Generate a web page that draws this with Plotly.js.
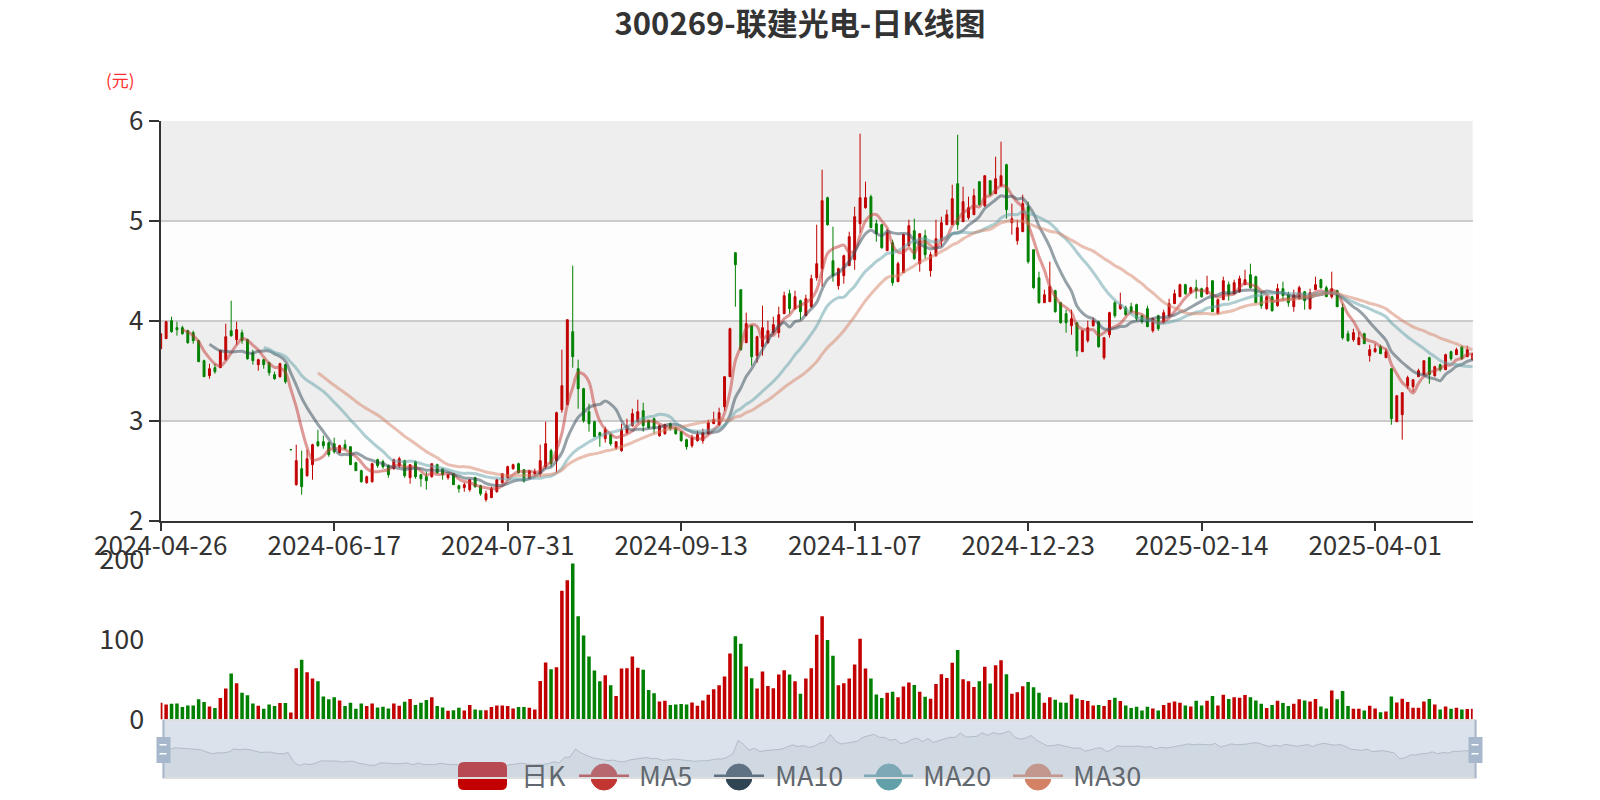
<!DOCTYPE html>
<html><head><meta charset="utf-8">
<script src="https://cdn.plot.ly/plotly-3.0.1.min.js"></script>
<style>html,body{margin:0;padding:0;background:#fff}#chart{width:1600px;height:800px}</style>
</head><body><div id="chart"></div>
<script>
// ---------- DATA ----------
const tradeMonths = ["2024-04","2024-05","2024-06","2024-07","2024-08","2024-09","2024-10","2024-11","2024-12","2025-01","2025-02","2025-03","2025-04"];
const tradeDays = [
 [26,29,30],
 [6,7,8,9,10,13,14,15,16,17,20,21,22,23,24,27,28,29,30,31],
 [3,4,5,6,7,11,12,13,14,17,18,19,20,21,24,25,26,27,28],
 [1,2,3,4,5,8,9,10,11,12,15,16,17,18,19,22,23,24,25,26,29,30,31],
 [1,2,5,6,7,8,9,12,13,14,15,16,19,20,21,22,23,26,27,28,29,30],
 [2,3,4,5,6,9,10,11,12,13,18,19,20,23,24,25,26,27,30],
 [8,9,10,11,14,15,16,17,18,21,22,23,24,25,28,29,30,31],
 [1,4,5,6,7,8,11,12,13,14,15,18,19,20,21,22,25,26,27,28,29],
 [2,3,4,5,6,9,10,11,12,13,16,17,18,19,20,23,24,25,26,27,30,31],
 [2,3,6,7,8,9,10,13,14,15,16,17,20,21,22,23,24,27],
 [5,6,7,10,11,12,13,14,17,18,19,20,21,24,25,26,27,28],
 [3,4,5,6,7,10,11,12,13,14,17,18,19,20,21,24,25,26,27,28,31],
 [1,2,3,7,8,9,10,11,14,15,16,17,18,21,22,23,24,25,28]
];
const dates = [];
tradeMonths.forEach((m, k) => tradeDays[k].forEach(d => dates.push(m + "-" + String(d).padStart(2, "0"))));

const open = [
 3.72,3.82,4.00,3.93,3.93,3.90,3.88,3.80,3.60,3.45,
 3.53,3.53,3.61,3.90,3.81,3.88,3.81,3.68,3.56,3.61,
 3.58,3.46,3.44,3.56,2.71,2.36,2.52,2.45,2.56,2.79,
 2.79,2.78,2.77,2.68,2.76,2.74,2.58,2.50,2.38,2.39,
 2.61,2.59,2.55,2.52,2.55,2.60,2.43,2.59,2.46,2.44,
 2.44,2.56,2.52,2.43,2.47,2.35,2.33,2.31,2.43,2.35,
 2.21,2.23,2.29,2.38,2.43,2.52,2.57,2.51,2.42,2.47,
 2.47,2.54,2.70,2.60,3.11,3.16,3.89,3.52,3.32,3.09,
 2.99,2.88,2.82,2.86,2.73,2.70,2.88,2.95,2.99,3.10,
 3.00,3.02,2.85,2.87,2.97,2.93,2.89,2.81,2.75,2.80,
 2.80,2.87,2.97,2.96,3.14,3.44,4.68,4.31,3.78,3.95,
 3.65,3.74,3.78,3.88,3.88,4.07,4.27,4.12,4.20,4.05,
 4.14,4.43,4.52,5.23,4.60,4.35,4.45,4.55,4.61,4.97,
 5.13,5.24,4.97,4.96,4.70,4.78,4.39,4.48,4.75,4.90,
 4.57,4.85,4.50,4.65,4.80,4.96,4.96,5.37,4.99,5.03,
 5.06,5.39,5.15,5.40,5.27,5.35,5.56,4.98,4.80,4.89,
 5.14,4.71,4.43,4.18,4.19,4.30,4.18,4.07,3.95,3.98,
 3.69,3.80,3.95,3.99,3.63,3.86,4.18,4.12,4.13,4.14,
 4.16,4.05,4.12,3.90,4.05,3.98,4.05,4.17,4.24,4.36,
 4.28,4.33,4.32,4.27,4.40,4.07,4.21,4.36,4.27,4.29,
 4.36,4.46,4.44,4.25,4.12,4.24,4.15,4.32,4.26,4.14,
 4.22,4.29,4.12,4.31,4.41,4.33,4.24,4.30,4.13,3.87,
 3.81,3.76,3.87,3.65,3.69,3.74,3.63,3.52,2.99,3.06,
 3.35,3.34,3.44,3.46,3.63,3.45,3.56,3.51,3.69,3.66,
 3.74,3.64,3.61
];
const close = [
 3.87,3.99,3.89,3.91,3.87,3.78,3.80,3.59,3.44,3.52,
 3.49,3.70,3.84,3.85,3.91,3.80,3.62,3.60,3.61,3.56,
 3.48,3.42,3.57,3.39,2.71,2.60,2.34,2.62,2.76,2.75,
 2.75,2.66,2.69,2.75,2.72,2.56,2.50,2.39,2.44,2.57,
 2.55,2.54,2.46,2.61,2.62,2.45,2.56,2.44,2.42,2.40,
 2.57,2.48,2.46,2.46,2.36,2.32,2.36,2.41,2.34,2.27,
 2.27,2.32,2.41,2.47,2.54,2.56,2.48,2.40,2.50,2.49,
 2.60,2.77,2.57,3.08,3.35,4.01,3.64,3.32,3.00,2.97,
 2.84,2.85,2.91,2.77,2.79,2.91,2.95,3.07,3.09,2.95,
 2.93,2.92,2.95,2.96,2.92,2.87,2.80,2.74,2.83,2.86,
 2.88,2.98,3.01,3.08,3.44,3.92,4.56,3.71,3.97,3.64,
 3.84,3.93,3.90,3.96,4.06,4.25,4.12,4.24,4.09,4.22,
 4.42,4.57,5.20,4.96,4.45,4.52,4.65,4.84,5.04,5.23,
 5.23,4.93,4.87,4.73,4.88,4.38,4.57,4.86,4.95,4.62,
 4.87,4.66,4.66,4.82,4.98,5.06,5.22,4.96,5.19,5.13,
 5.25,5.16,5.45,5.26,5.42,5.45,5.11,5.02,4.93,5.17,
 4.59,4.33,4.18,4.26,4.34,4.09,3.98,3.98,4.02,3.70,
 3.90,3.93,4.00,3.74,3.83,4.08,4.05,4.16,4.06,4.09,
 4.02,3.99,3.94,4.02,3.92,4.08,4.17,4.27,4.36,4.27,
 4.33,4.30,4.24,4.33,4.09,4.21,4.40,4.26,4.38,4.42,
 4.41,4.33,4.18,4.15,4.24,4.10,4.32,4.25,4.18,4.26,
 4.33,4.20,4.28,4.36,4.33,4.24,4.32,4.14,3.83,3.80,
 3.88,3.83,3.77,3.71,3.72,3.67,3.69,3.02,3.25,3.28,
 3.43,3.41,3.50,3.60,3.46,3.54,3.51,3.66,3.62,3.71,
 3.62,3.71,3.67
];
const low = [
 3.72,3.82,3.88,3.85,3.86,3.77,3.77,3.59,3.44,3.42,
 3.47,3.53,3.60,3.84,3.76,3.77,3.61,3.56,3.50,3.52,
 3.45,3.41,3.43,3.37,2.71,2.35,2.26,2.44,2.41,2.74,
 2.72,2.64,2.67,2.68,2.71,2.56,2.50,2.38,2.37,2.38,
 2.53,2.52,2.43,2.51,2.53,2.43,2.37,2.42,2.34,2.31,
 2.43,2.47,2.41,2.41,2.36,2.28,2.29,2.29,2.33,2.25,
 2.19,2.23,2.28,2.37,2.42,2.51,2.47,2.38,2.42,2.45,
 2.44,2.52,2.54,2.48,3.08,3.16,3.53,3.12,2.98,2.89,
 2.84,2.74,2.78,2.75,2.71,2.69,2.87,2.94,2.98,2.89,
 2.92,2.87,2.84,2.86,2.90,2.86,2.79,2.71,2.73,2.79,
 2.77,2.86,2.97,2.95,3.10,3.44,4.14,3.70,3.78,3.55,
 3.58,3.65,3.77,3.86,3.83,4.07,4.07,4.11,4.01,4.05,
 4.13,4.40,4.34,4.95,4.39,4.31,4.37,4.55,4.51,4.88,
 5.12,4.93,4.79,4.72,4.70,4.35,4.39,4.48,4.74,4.61,
 4.49,4.62,4.44,4.64,4.74,4.96,4.96,4.91,4.99,5.01,
 5.06,5.15,5.14,5.25,5.27,5.34,5.02,4.86,4.76,4.89,
 4.57,4.32,4.17,4.18,4.19,4.08,3.97,3.88,3.86,3.64,
 3.69,3.78,3.94,3.73,3.61,3.83,4.03,4.11,4.05,4.07,
 4.00,3.97,3.94,3.88,3.90,3.97,4.04,4.17,4.24,4.26,
 4.27,4.22,4.23,4.26,4.09,4.07,4.21,4.20,4.26,4.28,
 4.36,4.32,4.18,4.12,4.11,4.09,4.14,4.21,4.14,4.09,
 4.21,4.11,4.11,4.31,4.32,4.24,4.22,4.14,3.81,3.79,
 3.79,3.76,3.77,3.59,3.68,3.67,3.63,2.96,2.99,2.81,
 3.32,3.29,3.44,3.46,3.37,3.44,3.49,3.51,3.60,3.66,
 3.61,3.64,3.60
];
const high = [
 3.87,4.00,4.04,3.99,3.95,3.91,3.90,3.81,3.61,3.57,
 3.57,3.71,3.97,4.20,3.99,3.91,3.82,3.71,3.62,3.62,
 3.59,3.49,3.58,3.57,2.71,2.76,2.70,2.71,2.77,2.91,
 2.85,2.79,2.83,2.76,2.81,2.74,2.59,2.51,2.45,2.58,
 2.62,2.61,2.56,2.62,2.64,2.61,2.56,2.60,2.47,2.49,
 2.57,2.57,2.52,2.46,2.47,2.36,2.38,2.41,2.44,2.36,
 2.30,2.34,2.42,2.47,2.55,2.57,2.58,2.51,2.50,2.52,
 2.76,2.99,2.72,3.09,3.71,4.01,4.55,3.61,3.33,3.17,
 3.00,2.89,2.94,2.87,2.79,2.97,3.02,3.12,3.21,3.18,
 3.01,3.03,2.96,2.97,2.98,2.94,2.89,2.82,2.86,2.90,
 2.92,3.01,3.09,3.13,3.44,3.93,4.68,4.31,4.08,3.95,
 3.85,4.15,4.00,4.04,4.14,4.29,4.31,4.30,4.21,4.26,
 4.46,4.96,5.51,5.24,4.94,4.53,4.66,4.89,5.14,5.87,
 5.39,5.26,5.01,4.97,4.92,4.81,4.59,4.87,5.01,5.02,
 4.87,4.91,4.69,5.01,5.04,5.11,5.36,5.86,5.34,5.24,
 5.32,5.39,5.45,5.40,5.64,5.79,5.57,5.17,5.01,5.26,
 5.19,4.71,4.49,4.31,4.59,4.31,4.18,4.11,4.11,3.98,
 3.91,4.00,4.03,4.00,3.83,4.09,4.20,4.28,4.15,4.18,
 4.17,4.06,4.15,4.03,4.06,4.11,4.22,4.31,4.37,4.37,
 4.34,4.41,4.33,4.45,4.40,4.22,4.44,4.39,4.41,4.45,
 4.51,4.57,4.45,4.29,4.25,4.25,4.37,4.39,4.29,4.31,
 4.35,4.29,4.32,4.44,4.42,4.35,4.49,4.31,4.17,3.90,
 3.92,3.89,3.88,3.76,3.77,3.76,3.72,3.52,3.25,3.28,
 3.45,3.41,3.52,3.60,3.64,3.55,3.57,3.67,3.70,3.73,
 3.75,3.75,3.68
];
const volume = [
 21.0,18.9,19.7,20.1,15.5,17.6,17.6,25.2,21.8,16.4,
 14.3,26.8,38.6,57.4,45.3,33.5,30.2,20.1,17.2,13.4,
 18.9,16.8,20.5,20.5,8.8,64.2,74.6,59.1,51.2,47.8,
 28.9,25.2,27.7,23.9,16.8,21.0,13.4,20.1,16.8,20.1,
 15.1,15.9,13.8,20.1,17.2,22.2,25.6,18.0,21.0,24.3,
 27.7,16.8,15.1,10.9,11.7,14.7,11.3,18.0,12.6,11.7,
 11.7,15.5,17.6,17.6,16.8,13.8,15.5,15.5,14.7,12.6,
 48.2,71.3,62.9,65.4,161,174,195,129,105,78.8,
 61.2,47.8,55.3,42.8,29.4,63.7,64.2,78.8,64.6,62.1,
 36.9,32.7,22.6,23.5,18.0,18.9,19.3,18.9,21.4,17.2,
 23.9,31.0,37.7,42.8,53.7,82.6,104,94.8,66.2,51.6,
 38.6,60.0,41.9,39.0,56.2,61.6,56.2,47.8,32.3,51.2,
 64.2,106,129,99.4,79.7,42.8,45.3,51.2,68.8,101,
 63.7,51.2,31.4,26.8,33.5,34.8,27.7,41.1,46.1,43.2,
 34.8,28.5,26.0,44.4,56.6,52.0,70.9,86.8,50.3,47.8,
 40.7,47.8,65.8,44.9,67.9,74.2,56.6,32.3,34.0,41.5,
 47.0,40.3,33.5,21.0,27.7,24.7,21.4,21.0,31.4,26.4,
 24.3,23.1,17.6,18.0,16.8,24.3,27.3,23.1,17.6,14.3,
 15.9,11.3,15.9,13.8,11.3,18.0,21.0,22.6,21.0,17.6,
 16.4,23.5,17.6,23.5,29.4,17.6,31.0,25.6,27.7,27.3,
 30.6,27.7,23.9,19.7,14.3,18.0,23.5,20.5,16.8,19.7,
 25.2,23.9,22.6,25.6,16.4,13.8,36.1,25.2,35.6,16.8,
 13.4,13.4,11.3,17.2,13.8,9.2,10.1,28.9,21.4,26.0,
 21.8,14.7,14.7,22.6,25.6,18.9,12.6,16.4,13.4,14.7,
 12.6,13.0,13.5
];
const tickDates = ["2024-04-26","2024-06-17","2024-07-31","2024-09-13","2024-11-07","2024-12-23","2025-02-14","2025-04-01"];
const priceTicks = [2,3,4,5,6];
const volumeTicks = [0,100,200];
const maPeriods = [5,10,20,30];
const maNames = ["MA5","MA10","MA20","MA30"];
const titleText = "300269-联建光电-日K线图";
const unitText = "(元)";
const candleName = "日K";

// ---------- STYLE ----------
const upColor = "#c20000", downColor = "#008000";
const maColors = ["#c23531","#2f4554","#61a0a8","#d48265"];
const FONT = "Noto Sans CJK SC, Noto Sans, sans-serif";
const W = 1600, H = 800;
const px = x => x / W, py = y => 1 - y / H;
const N = dates.length;

function movingAverage(n) {
  return close.map((v, i) => {
    if (i < n - 1) return null;
    let s = 0;
    for (let k = i - n + 1; k <= i; k++) s += close[k];
    return s / n;
  });
}

const traces = [];
traces.push({
  type: "candlestick", x: dates, open: open, close: close, low: low, high: high,
  xaxis: "x", yaxis: "y", name: candleName, hoverinfo: "skip", whiskerwidth: 0,
  increasing: {line: {color: upColor, width: 1}, fillcolor: upColor},
  decreasing: {line: {color: downColor, width: 1}, fillcolor: downColor}
});
maPeriods.forEach((n, k) => {
  traces.push({
    type: "scatter", mode: "lines", x: dates, y: movingAverage(n), name: maNames[k],
    xaxis: "x", yaxis: "y", hoverinfo: "skip", opacity: 0.5,
    line: {color: maColors[k], width: 3, shape: "spline", smoothing: 1}
  });
});
traces.push({
  type: "bar", x: dates, y: volume, xaxis: "x2", yaxis: "y2", hoverinfo: "skip",
  marker: {color: close.map((c, i) => c >= open[i] ? upColor : downColor), line: {width: 0}}
});
// data shadow of the zoom slider
const sMin = Math.min(...open), sMax = Math.max(...open), sPad = (sMax - sMin) * 0.3;
traces.push({
  type: "scatter", mode: "lines", x: dates, y: open, xaxis: "x3", yaxis: "y3",
  hoverinfo: "skip", fill: "tozeroy", fillcolor: "rgba(47,69,84,0.09)",
  line: {color: "rgba(47,69,84,0.3)", width: 1}
});

const plotL = 160.7, plotR = 1472.7;
const priceTop = 120.7, priceBot = 520.7;
const volTop = 559.5, volBot = 719.5;
const slL = 163.5, slR = 1475.5, slTop = 720, slBot = 778;

const shapes = [];
// split areas
[[2,3,"#fdfdfd"],[3,4,"#eeeeee"],[4,5,"#fdfdfd"],[5,6,"#eeeeee"]].forEach(b => {
  shapes.push({type: "rect", xref: "x domain", yref: "y", x0: 0, x1: 1, y0: b[0], y1: b[1],
    fillcolor: b[2], line: {width: 0}, layer: "below"});
});
function roundRect(x0, y0, x1, y1, r) {
  const X = v => px(v).toFixed(5), Y = v => py(v).toFixed(5);
  return `M${X(x0+r)},${Y(y0)} L${X(x1-r)},${Y(y0)} Q${X(x1)},${Y(y0)} ${X(x1)},${Y(y0+r)} ` +
    `L${X(x1)},${Y(y1-r)} Q${X(x1)},${Y(y1)} ${X(x1-r)},${Y(y1)} L${X(x0+r)},${Y(y1)} ` +
    `Q${X(x0)},${Y(y1)} ${X(x0)},${Y(y1-r)} L${X(x0)},${Y(y0+r)} Q${X(x0)},${Y(y0)} ${X(x0+r)},${Y(y0)} Z`;
}
// legend icons (drawn under the slider filler)
shapes.push({type: "path", xref: "paper", yref: "paper", path: roundRect(458, 762, 507, 790, 6),
  fillcolor: upColor, line: {width: 0}, layer: "above"});
const legLines = [[579, 629, 604], [714, 764, 739], [864, 913, 889], [1013, 1063, 1038]];
legLines.forEach((L, k) => {
  shapes.push({type: "line", xref: "paper", yref: "paper", x0: px(L[0]), x1: px(L[1]), y0: py(776), y1: py(776),
    line: {color: maColors[k], width: 3}, layer: "above"});
  shapes.push({type: "circle", xref: "paper", yref: "paper", x0: px(L[2]-13), x1: px(L[2]+13), y0: py(790), y1: py(764),
    fillcolor: maColors[k], line: {color: maColors[k], width: 1}, layer: "above"});
});
// slider filler + border
shapes.push({type: "rect", xref: "paper", yref: "paper", x0: px(slL), x1: px(slR), y0: py(slBot), y1: py(slTop),
  fillcolor: "rgba(167,183,204,0.4)", line: {color: "#dddddd", width: 2}, layer: "above"});
// handles
[slL, slR].forEach(cx => {
  shapes.push({type: "line", xref: "paper", yref: "paper", x0: px(cx), x1: px(cx), y0: py(slBot), y1: py(slTop),
    line: {color: "#a7b7cc", width: 2}, layer: "above"});
  shapes.push({type: "rect", xref: "paper", yref: "paper", x0: px(cx-7), x1: px(cx+7), y0: py(763), y1: py(737),
    fillcolor: "#a7b7cc", line: {width: 0}, layer: "above"});
  [744, 753].forEach(yy => shapes.push({type: "rect", xref: "paper", yref: "paper", x0: px(cx-4), x1: px(cx+3), y0: py(yy+1.5), y1: py(yy),
    fillcolor: "#ffffff", line: {width: 0}, layer: "above"}));
});

const annotations = [];
annotations.push({xref: "paper", yref: "paper", x: px(120), y: py(79), text: unitText, showarrow: false,
  xanchor: "center", yanchor: "middle", font: {family: FONT, size: 17, color: "#ff3030"}});
const legTexts = [[candleName, 521], [maNames[0], 639], [maNames[1], 775], [maNames[2], 923], [maNames[3], 1073]];
legTexts.forEach(t => annotations.push({xref: "paper", yref: "paper", x: px(t[1]-2), y: py(774), text: t[0],
  showarrow: false, xanchor: "left", yanchor: "middle", font: {family: FONT, size: 27, color: "#62686f"}}));

const layout = {
  width: W, height: H, margin: {l: 0, r: 0, t: 0, b: 0},
  paper_bgcolor: "#ffffff", plot_bgcolor: "rgba(0,0,0,0)", showlegend: false,
  font: {family: FONT, color: "#333"},
  title: {text: titleText, x: 0.5, xanchor: "center", y: py(24), yanchor: "middle",
    font: {family: FONT, size: 31, color: "#333", weight: "bold"}},
  bargap: 0.35, boxgap: 0.5,
  xaxis: {domain: [px(plotL), px(plotR)], anchor: "y", type: "category", range: [0, N - 1],
    tickmode: "array", tickvals: tickDates, ticktext: tickDates,
    showline: true, linecolor: "#333", linewidth: 2, ticks: "outside", ticklen: 8, tickwidth: 2, tickcolor: "#333",
    ticklabelstandoff: -7,
    tickfont: {family: FONT, size: 26, color: "#333"}, showgrid: false, zeroline: false,
    rangeslider: {visible: false}, fixedrange: true},
  yaxis: {domain: [py(priceBot), py(priceTop)], anchor: "x", range: [2, 6], tickmode: "array", tickvals: priceTicks,
    showline: true, linecolor: "#333", linewidth: 2, ticks: "outside", ticklen: 10, tickwidth: 2, tickcolor: "#333",
    showgrid: true, gridcolor: "#cccccc", gridwidth: 2, zeroline: false,
    tickfont: {family: FONT, size: 26, color: "#333"}, fixedrange: true},
  xaxis2: {domain: [px(plotL), px(plotR)], anchor: "y2", type: "category", matches: "x",
    showticklabels: false, showline: false, ticks: "", showgrid: false, zeroline: false, fixedrange: true},
  yaxis2: {domain: [py(volBot), py(volTop)], anchor: "x2", range: [0, 200], tickmode: "array", tickvals: volumeTicks,
    showline: false, showgrid: false, zeroline: false, ticks: "outside", ticklen: 10, tickcolor: "rgba(0,0,0,0)",
    tickfont: {family: FONT, size: 27, color: "#333"}, fixedrange: true},
  xaxis3: {domain: [px(slL), px(slR)], anchor: "y3", type: "category", range: [0, N - 1], visible: false, fixedrange: true},
  yaxis3: {domain: [py(slBot), py(slTop)], anchor: "x3", range: [sMin - sPad, sMax + sPad], visible: false, fixedrange: true},
  shapes: shapes, annotations: annotations
};
Plotly.newPlot("chart", traces, layout, {staticPlot: true});
</script>
</body></html>
